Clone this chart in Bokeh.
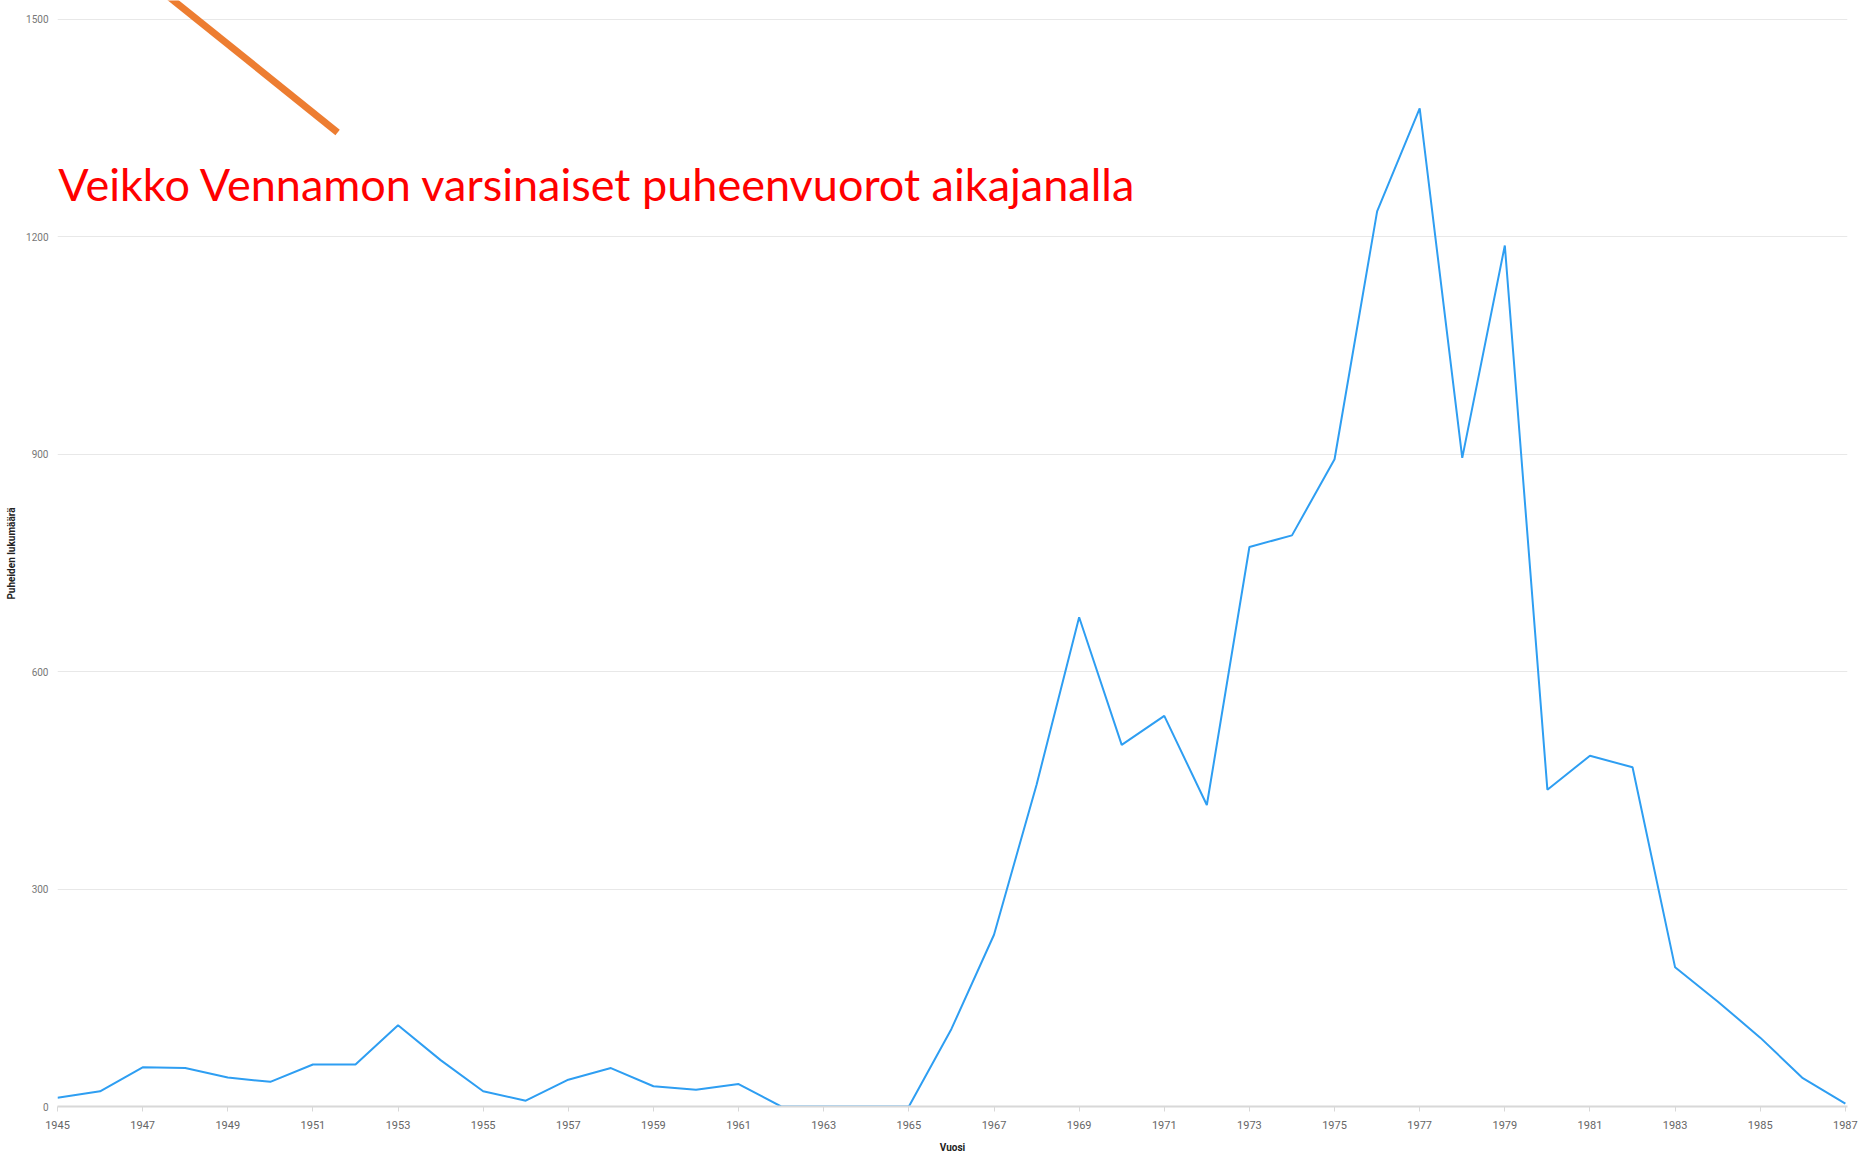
from bokeh.plotting import figure
from bokeh.models import FixedTicker, Label, Range1d, ColumnDataSource
from bokeh.embed import file_html
from bokeh.resources import INLINE

# ---- data ----
years = list(range(1945, 1988))
speeches = [12, 21, 54, 53, 40, 34, 58, 58, 112, 64,
            21, 8, 37, 53, 28, 23, 31, 0, 0, 0,
            0, 107, 237, 444, 675, 499, 539, 416, 772, 788,
            893, 1235, 1377, 895, 1188, 437, 484, 468, 192, 145,
            95, 39, 4]
y_ticks = [0, 300, 600, 900, 1200, 1500]
x_ticks = list(range(1945, 1988, 2))
title_text = "Veikko Vennamon varsinaiset puheenvuorot aikajanalla"
x_label = "Vuosi"
y_label = "Puheiden lukumäärä"
# annotation stroke (orange pointer) in data coordinates
arrow_x = [1947.3, 1951.58]
arrow_y = [1546, 1344]

p = figure(width=1858, height=1155, output_backend="svg", toolbar_location=None,
           x_range=Range1d(1945, 1987.05), y_range=Range1d(0, 1526),
           min_border_left=57, min_border_right=11, min_border_top=0, min_border_bottom=49)
p.outline_line_color = None
p.background_fill_color = "white"

src = ColumnDataSource(dict(x=years, y=speeches))
p.line("x", "y", source=src, line_color="#2e9ef2", line_width=2)

p.line(arrow_x, arrow_y, line_color="#ED7D31", line_width=7)

# grids
p.xgrid.grid_line_color = None
p.ygrid.grid_line_color = "#e8e8e8"
p.ygrid.grid_line_width = 1
p.ygrid.ticker = FixedTicker(ticks=y_ticks)

# y axis
ya = p.yaxis[0]
ya.ticker = FixedTicker(ticks=y_ticks)
ya.axis_line_color = None
ya.major_tick_line_color = None
ya.minor_tick_line_color = None
ya.major_tick_out = 0
ya.major_tick_in = 0
ya.major_label_text_font = "Roboto"
ya.major_label_text_font_size = "10px"
ya.major_label_text_color = "#777777"
ya.major_label_standoff = 9
ya.axis_label = y_label
ya.axis_label_text_font = "Roboto"
ya.axis_label_text_font_size = "10px"
ya.axis_label_text_font_style = "bold"
ya.axis_label_text_color = "#222222"
ya.axis_label_standoff = 6

# x axis
xa = p.xaxis[0]
xa.ticker = FixedTicker(ticks=x_ticks)
xa.axis_line_color = "#d8d8d8"
xa.axis_line_width = 2
xa.major_tick_line_color = "#d8d8d8"
xa.major_tick_out = 5
xa.major_tick_in = 0
xa.minor_tick_line_color = None
xa.major_label_text_font = "Roboto"
xa.major_label_text_font_size = "11px"
xa.major_label_text_color = "#666666"
xa.major_label_standoff = 9
xa.axis_label = x_label
xa.axis_label_text_font = "Roboto"
xa.axis_label_text_font_size = "10px"
xa.axis_label_text_font_style = "bold"
xa.axis_label_text_color = "#222222"
xa.axis_label_standoff = 10

title = Label(x=1945.02, y=1273, text=title_text, text_color="#ff0000",
              text_font="Lato", text_font_size="45px", text_baseline="alphabetic",
              text_align="left")
p.add_layout(title)

open("out.html", "w").write(file_html(p, INLINE))
